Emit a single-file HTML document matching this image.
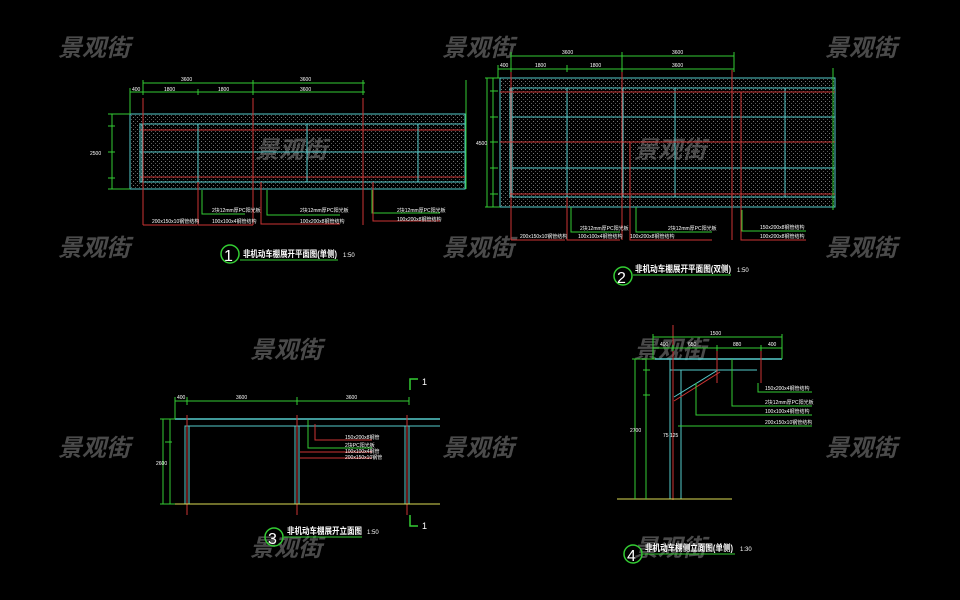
<!DOCTYPE html>
<html><head><meta charset="utf-8"><style>
html,body{margin:0;padding:0;background:#000;}
svg{display:block}
.wm{font-family:"Liberation Sans","Noto Sans CJK SC",sans-serif;font-size:24px;font-style:italic;font-weight:bold;fill:#4a4a4a;}
.t{font-family:"Liberation Sans","Noto Sans CJK SC",sans-serif;fill:#fff;}
.d{font-family:"Liberation Sans",sans-serif;font-size:5px;fill:#fff;}
</style></head><body>
<svg width="960" height="600" viewBox="0 0 960 600" xmlns="http://www.w3.org/2000/svg">
<defs>
<pattern id="h" width="4" height="4" patternUnits="userSpaceOnUse"><rect x="1" y="1" width="1" height="1" fill="#777"/><rect x="3" y="3" width="1" height="1" fill="#555"/></pattern>
</defs>
<rect width="960" height="600" fill="#000"/>
<g class="wm">
<text x="58" y="56">景观街</text><text x="442" y="56">景观街</text><text x="825" y="56">景观街</text>
<text x="58" y="256">景观街</text><text x="442" y="256">景观街</text><text x="825" y="256">景观街</text>
<text x="255" y="158">景观街</text><text x="634" y="158">景观街</text>
<text x="250" y="358">景观街</text><text x="634" y="358">景观街</text>
<text x="58" y="456">景观街</text><text x="442" y="456">景观街</text><text x="825" y="456">景观街</text>
<text x="250" y="556">景观街</text><text x="634" y="556">景观街</text>
</g>

<!-- Drawing 1 -->
<g fill="none" stroke-width="1">
<rect x="130" y="114" width="335" height="75" fill="url(#h)" stroke="#5cc"/>
<rect x="140" y="124" width="325" height="58" stroke="#5cc"/>
<line x1="140" y1="152" x2="465" y2="152" stroke="#5cc"/>
<line x1="140" y1="130" x2="465" y2="130" stroke="#c33"/>
<line x1="140" y1="177" x2="465" y2="177" stroke="#c33"/>
<g stroke="#5cc"><line x1="142" y1="124" x2="142" y2="182"/><line x1="198" y1="124" x2="198" y2="182"/><line x1="253" y1="124" x2="253" y2="182"/><line x1="307" y1="124" x2="307" y2="182"/><line x1="363" y1="124" x2="363" y2="182"/><line x1="418" y1="124" x2="418" y2="182"/></g>
<g stroke="#c33"><line x1="143" y1="98" x2="143" y2="225"/><line x1="253" y1="98" x2="253" y2="225"/><line x1="363" y1="98" x2="363" y2="225"/></g>
<g stroke="#3c3"><line x1="143" y1="83" x2="365" y2="83"/><line x1="130" y1="92" x2="365" y2="92"/>
<line x1="130" y1="88" x2="130" y2="114"/><line x1="143" y1="80" x2="143" y2="95"/><line x1="198" y1="89" x2="198" y2="95"/><line x1="253" y1="80" x2="253" y2="95"/><line x1="363" y1="80" x2="363" y2="95"/>
<line x1="112" y1="114" x2="112" y2="189"/><line x1="108" y1="114" x2="130" y2="114"/><line x1="108" y1="126" x2="115" y2="126"/><line x1="108" y1="152" x2="115" y2="152"/><line x1="108" y1="178" x2="115" y2="178"/><line x1="108" y1="189" x2="130" y2="189"/>
<line x1="466" y1="80" x2="466" y2="189"/>
<polyline points="202,190 202,214 245,214"/><polyline points="267,190 267,215 340,215"/><polyline points="372,190 372,213 440,213"/>
</g>
<g stroke="#c33"><polyline points="143,225 197,225"/><polyline points="198,182 198,225 253,225"/><polyline points="261,182 261,224 340,224"/><polyline points="373,182 373,221 440,221"/></g>
</g>
<g class="d"><text x="181" y="81">3600</text><text x="300" y="81">3600</text><text x="132" y="91">400</text><text x="164" y="91">1800</text><text x="218" y="91">1800</text><text x="300" y="91">3600</text>
<text x="152" y="223">200x150x10钢管结构</text><text x="212" y="212">2块12mm厚PC阳光板</text><text x="212" y="223">100x100x4钢管结构</text><text x="300" y="212">2块12mm厚PC阳光板</text><text x="300" y="223">100x200x8钢管结构</text><text x="397" y="212">2块12mm厚PC阳光板</text><text x="397" y="221">100x200x8钢管结构</text>
<text x="90" y="155">2500</text></g>
<circle cx="230" cy="254" r="9" fill="none" stroke="#3c3" stroke-width="1.5"/>
<text class="t" x="224" y="261" font-size="16" font-family="Liberation Serif">1</text>
<text class="t" x="243" y="257" font-size="9" font-weight="bold" textLength="94" lengthAdjust="spacingAndGlyphs">非机动车棚展开平面图(单侧)</text>
<text class="t" x="343" y="257" font-size="6">1:50</text>
<line x1="240" y1="260" x2="338" y2="260" stroke="#3c3"/>

<!-- Drawing 2 -->
<g fill="none" stroke-width="1">
<rect x="500" y="78" width="335" height="129" fill="url(#h)" stroke="#5cc"/>
<rect x="510" y="88" width="325" height="109" stroke="#5cc"/>
<g stroke="#5cc"><line x1="510" y1="117" x2="835" y2="117"/><line x1="510" y1="142" x2="835" y2="142"/><line x1="510" y1="168" x2="835" y2="168"/>
<line x1="512" y1="88" x2="512" y2="197"/><line x1="567" y1="88" x2="567" y2="197"/><line x1="623" y1="88" x2="623" y2="197"/><line x1="675" y1="88" x2="675" y2="197"/><line x1="732" y1="88" x2="732" y2="197"/><line x1="785" y1="88" x2="785" y2="197"/></g>
<g stroke="#c33"><line x1="500" y1="92" x2="835" y2="92"/><line x1="500" y1="142" x2="835" y2="142"/><line x1="510" y1="194" x2="835" y2="194"/>
<line x1="511" y1="70" x2="511" y2="240"/><line x1="622" y1="70" x2="622" y2="240"/><line x1="732" y1="70" x2="732" y2="240"/>
<polyline points="567,197 567,240 620,240"/><polyline points="630,142 630,240 712,240"/><polyline points="741,92 741,240 806,240"/><polyline points="511,240 565,240"/></g>
<g stroke="#3c3"><line x1="511" y1="56" x2="734" y2="56"/><line x1="498" y1="69" x2="734" y2="69"/>
<line x1="511" y1="52" x2="511" y2="72"/><line x1="567" y1="65" x2="567" y2="72"/><line x1="622" y1="52" x2="622" y2="72"/><line x1="734" y1="52" x2="734" y2="72"/><line x1="498" y1="65" x2="498" y2="78"/>
<line x1="487" y1="78" x2="487" y2="207"/><line x1="493" y1="78" x2="493" y2="207"/>
<line x1="485" y1="78" x2="500" y2="78"/><line x1="490" y1="91" x2="498" y2="91"/><line x1="490" y1="117" x2="498" y2="117"/><line x1="490" y1="142" x2="498" y2="142"/><line x1="490" y1="168" x2="498" y2="168"/><line x1="490" y1="194" x2="498" y2="194"/><line x1="485" y1="207" x2="500" y2="207"/>
<line x1="833" y1="68" x2="833" y2="210"/>
<polyline points="571,207 571,232 620,232"/><polyline points="636,207 636,232 712,232"/><polyline points="742,210 742,231 806,231"/>
</g>
</g>
<g class="d"><text x="562" y="54">3600</text><text x="672" y="54">3600</text><text x="500" y="67">400</text><text x="535" y="67">1800</text><text x="590" y="67">1800</text><text x="672" y="67">3600</text>
<text x="520" y="238">200x150x10钢管结构</text><text x="580" y="230">2块12mm厚PC阳光板</text><text x="578" y="238">100x100x4钢管结构</text><text x="668" y="230">2块12mm厚PC阳光板</text><text x="630" y="238">100x200x8钢管结构</text><text x="760" y="229">150x200x8钢管结构</text><text x="760" y="238">100x200x8钢管结构</text>
<text x="476" y="145">4500</text></g>
<circle cx="623" cy="276" r="9" fill="none" stroke="#3c3" stroke-width="1.5"/>
<text class="t" x="617" y="283" font-size="16" font-family="Liberation Serif">2</text>
<text class="t" x="635" y="272" font-size="9" font-weight="bold" textLength="96" lengthAdjust="spacingAndGlyphs">非机动车棚展开平面图(双侧)</text>
<text class="t" x="737" y="272" font-size="6">1:50</text>
<line x1="633" y1="275" x2="731" y2="275" stroke="#3c3"/>

<!-- Drawing 3 -->
<g fill="none" stroke-width="1">
<line x1="175" y1="419" x2="440" y2="419" stroke="#5cc" stroke-width="1.5"/>
<line x1="185" y1="426" x2="440" y2="426" stroke="#5cc"/>
<g stroke="#5cc"><rect x="185" y="426" width="4" height="78"/><rect x="295" y="426" width="4" height="78"/><rect x="405" y="426" width="4" height="78"/></g>
<g stroke="#c33"><line x1="187" y1="415" x2="187" y2="515"/><line x1="297" y1="415" x2="297" y2="515"/><line x1="407" y1="415" x2="407" y2="515"/>
<polyline points="315,424 315,440 372,440"/><polyline points="300,452 372,452"/><polyline points="300,458 372,458"/></g>
<polyline points="308,420 308,448 372,448" stroke="#3c3"/>
<line x1="165" y1="504" x2="440" y2="504" stroke="#dd5"/>
<g stroke="#3c3"><line x1="175" y1="401" x2="409" y2="401"/><line x1="175" y1="397" x2="175" y2="419"/><line x1="187" y1="397" x2="187" y2="405"/><line x1="297" y1="397" x2="297" y2="405"/><line x1="409" y1="397" x2="409" y2="405"/>
<line x1="163" y1="419" x2="163" y2="504"/><line x1="170" y1="419" x2="170" y2="504"/><line x1="160" y1="419" x2="175" y2="419"/><line x1="165" y1="442" x2="172" y2="442"/><line x1="160" y1="504" x2="175" y2="504"/>
<polyline points="410,390 410,379 418,379" stroke-width="1.5"/><polyline points="410,515 410,526 418,526" stroke-width="1.5"/></g>
</g>
<g class="d"><text x="177" y="399">400</text><text x="236" y="399">3600</text><text x="346" y="399">3600</text>
<text x="345" y="439">150x200x8钢管</text><text x="345" y="447">2块PC阳光板</text><text x="345" y="453">100x100x4钢管</text><text x="345" y="459">200x150x10钢管</text><text x="156" y="465">2600</text></g>
<text class="t" x="422" y="385" font-size="9">1</text><text class="t" x="422" y="529" font-size="9">1</text>
<circle cx="274" cy="537" r="9" fill="none" stroke="#3c3" stroke-width="1.5"/>
<text class="t" x="268" y="544" font-size="16" font-family="Liberation Serif">3</text>
<text class="t" x="287" y="534" font-size="9" font-weight="bold" textLength="75" lengthAdjust="spacingAndGlyphs">非机动车棚展开立面图</text>
<text class="t" x="367" y="534" font-size="6">1:50</text>
<line x1="284" y1="537" x2="362" y2="537" stroke="#3c3"/>

<!-- Drawing 4 -->
<g fill="none" stroke-width="1">
<line x1="655" y1="359" x2="782" y2="359" stroke="#5cc" stroke-width="1.5"/>
<line x1="670" y1="370" x2="757" y2="370" stroke="#5cc"/>
<line x1="670" y1="359" x2="670" y2="499" stroke="#5cc"/><line x1="681" y1="370" x2="681" y2="499" stroke="#5cc"/>
<line x1="674" y1="397" x2="718" y2="370" stroke="#5cc"/><line x1="674" y1="401" x2="720" y2="372" stroke="#c33"/>
<line x1="673" y1="325" x2="673" y2="500" stroke="#c33"/>
<line x1="717" y1="350" x2="717" y2="383" stroke="#c33"/><line x1="761" y1="350" x2="761" y2="383" stroke="#c33"/>
<line x1="617" y1="499" x2="732" y2="499" stroke="#dd5"/>
<g stroke="#3c3"><line x1="653" y1="337" x2="782" y2="337"/><line x1="653" y1="348" x2="782" y2="348"/>
<line x1="653" y1="334" x2="653" y2="359"/><line x1="673" y1="345" x2="673" y2="351"/><line x1="717" y1="345" x2="717" y2="351"/><line x1="761" y1="345" x2="761" y2="351"/><line x1="782" y1="334" x2="782" y2="359"/>
<line x1="635" y1="359" x2="635" y2="499"/><line x1="646" y1="359" x2="646" y2="499"/><line x1="632" y1="359" x2="655" y2="359"/><line x1="643" y1="370" x2="650" y2="370"/><line x1="643" y1="395" x2="650" y2="395"/>
<polyline points="758,383 758,392 812,392"/><polyline points="732,359 732,406 812,406"/><polyline points="696,383 696,415 812,415"/><polyline points="678,426 812,426"/>
</g></g>
<g class="d"><text x="710" y="335">1500</text><text x="660" y="346">400</text><text x="688" y="346">650</text><text x="733" y="346">880</text><text x="768" y="346">400</text>
<text x="765" y="390">150x200x4钢管结构</text><text x="765" y="404">2块12mm厚PC阳光板</text><text x="765" y="413">100x100x4钢管结构</text><text x="765" y="424">200x150x10钢管结构</text><text x="663" y="437">75 125</text><text x="630" y="432">2700</text></g>
<circle cx="633" cy="554" r="9" fill="none" stroke="#3c3" stroke-width="1.5"/>
<text class="t" x="627" y="561" font-size="16" font-family="Liberation Serif">4</text>
<text class="t" x="645" y="551" font-size="9" font-weight="bold" textLength="88" lengthAdjust="spacingAndGlyphs">非机动车棚侧立面图(单侧)</text>
<text class="t" x="740" y="551" font-size="6">1:30</text>
<line x1="643" y1="554" x2="735" y2="554" stroke="#3c3"/>
</svg>
</body></html>
